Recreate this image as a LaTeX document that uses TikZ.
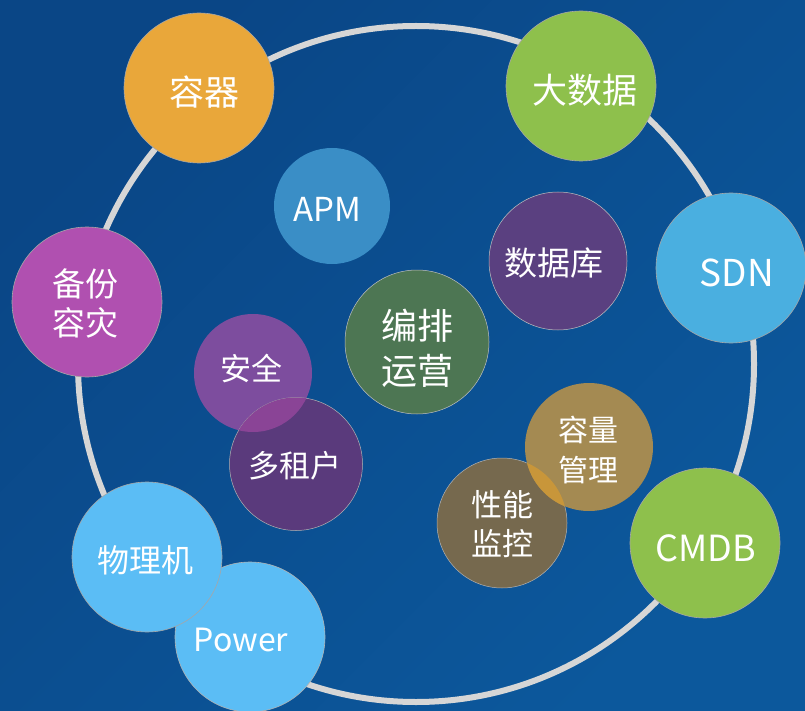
\documentclass[tikz,border=0pt]{standalone}
\usepackage{fontspec}
\setmainfont{Noto Sans CJK SC}
\usetikzlibrary{shadings}
\definecolor{bgA}{HTML}{0A4686}
\definecolor{bgB}{HTML}{0C589C}
\definecolor{ringc}{HTML}{D6D6D6}
\definecolor{cOrange}{HTML}{E9A73A}
\definecolor{cGreen}{HTML}{8EC04C}
\definecolor{cSky}{HTML}{4AAFE0}
\definecolor{cApm}{HTML}{3A8EC6}
\definecolor{cDb}{HTML}{5A4080}
\definecolor{cOrch}{HTML}{4D7653}
\definecolor{cMag}{HTML}{B050B0}
\definecolor{cSec}{HTML}{7D4D9E}
\definecolor{cTen}{HTML}{5A3A7C}
\definecolor{cPhy}{HTML}{5BBDF5}
\definecolor{cCap}{HTML}{A48A52}
\definecolor{cPerf}{HTML}{76694E}
\definecolor{cLensA}{HTML}{8A4496}
\definecolor{cLensB}{HTML}{C8963A}
\tikzset{
  ball/.style={circle, inner sep=0pt, minimum size=#1},
  bigball/.style={ball=150pt, draw=black!35, line width=0.6pt},
  lbl/.style={text=white, align=center, inner sep=0pt},
}
\begin{document}
\begin{tikzpicture}[x=1pt,y=-1pt]
\useasboundingbox (0,0) rectangle (805,711);
\shade[left color=bgA, right color=bgB, shading angle=45] (0,0) rectangle (805,711);
\node[circle, draw=ringc, line width=6pt, minimum size=676pt, inner sep=0pt] (ring) at (416,364) {};
% outer balls
\node[bigball, fill=cOrange] (rongqi) at (199,88) {};
\node[lbl, font=\fontsize{35}{40}\selectfont] (rongqi-t) at ([shift={(5,4)}]rongqi.center) {容器};
\node[bigball, fill=cGreen] (dashuju) at (581,86) {};
\node[lbl, font=\fontsize{35}{40}\selectfont] (dashuju-t) at ([shift={(4,4)}]dashuju.center) {大数据};
\node[bigball, fill=cSky] (sdn) at (731,268) {};
\node[lbl, font=\fontsize{37}{42}\selectfont] (sdn-t) at ([shift={(6,5)}]sdn.center) {SDN};
\node[bigball, fill=cMag] (beifen) at (87,302) {};
\node[lbl, font=\fontsize{33}{39}\selectfont] (beifen-t) at ([shift={(-2,1)}]beifen.center) {备份\\容灾};
\node[bigball, fill=cPhy, draw=black!30] (power) at (250,637) {};
\node[lbl, font=\fontsize{32}{38}\selectfont] (power-t) at ([shift={(-9,3)}]power.center) {Power};
\node[bigball, fill=cPhy] (wuliji) at (147,557) {};
\node[lbl, font=\fontsize{32}{38}\selectfont] (wuliji-t) at ([shift={(-2,3)}]wuliji.center) {物理机};
\node[bigball, fill=cGreen] (cmdb) at (705,543) {};
\node[lbl, font=\fontsize{36}{40}\selectfont] (cmdb-t) at ([shift={(1,5)}]cmdb.center) {CMDB};
% inner balls
\node[ball=116pt, fill=cApm] (apm) at (332,206) {};
\node[lbl, font=\fontsize{33}{38}\selectfont] (apm-t) at ([shift={(-5,3)}]apm.center) {APM};
\node[ball=138pt, fill=cDb, draw=black!25, line width=0.5pt] (db) at (558,261) {};
\node[lbl, font=\fontsize{33}{38}\selectfont] (db-t) at ([shift={(-4,2)}]db.center) {数据库};
\node[ball=144pt, fill=cOrch, draw=black!25, line width=0.5pt] (orch) at (417,342) {};
\node[lbl, font=\fontsize{36}{45}\selectfont] (orch-t) at ([shift={(0,6)}]orch.center) {编排\\运营};
\node[ball=118pt, fill=cSec] (sec) at (253,373) {};
\node[ball=133pt, fill=cTen, draw=black!30, line width=0.5pt] (ten) at (296,464) {};
\begin{scope}
  \clip (sec.center) circle (59);
  \fill[cLensA] (ten.center) circle (66.5);
\end{scope}
\node[lbl, font=\fontsize{31}{36}\selectfont] (sec-t) at ([shift={(-2,-4)}]sec.center) {安全};
\node[lbl, font=\fontsize{31}{36}\selectfont] (ten-t) at ([shift={(-1,2)}]ten.center) {多租户};
\node[ball=130pt, fill=cPerf, draw=black!30, line width=0.5pt] (perf) at (502,523) {};
\node[ball=128pt, fill=cCap] (cap) at (589,447) {};
\begin{scope}
  \clip (cap.center) circle (64);
  \fill[cLensB] (perf.center) circle (65);
\end{scope}
\node[lbl, font=\fontsize{31}{39}\selectfont] (perf-t) at ([shift={(0,1)}]perf.center) {性能\\监控};
\node[lbl, font=\fontsize{30}{40}\selectfont] (cap-t) at ([shift={(-1,3)}]cap.center) {容量\\管理};
\end{tikzpicture}
\end{document}
